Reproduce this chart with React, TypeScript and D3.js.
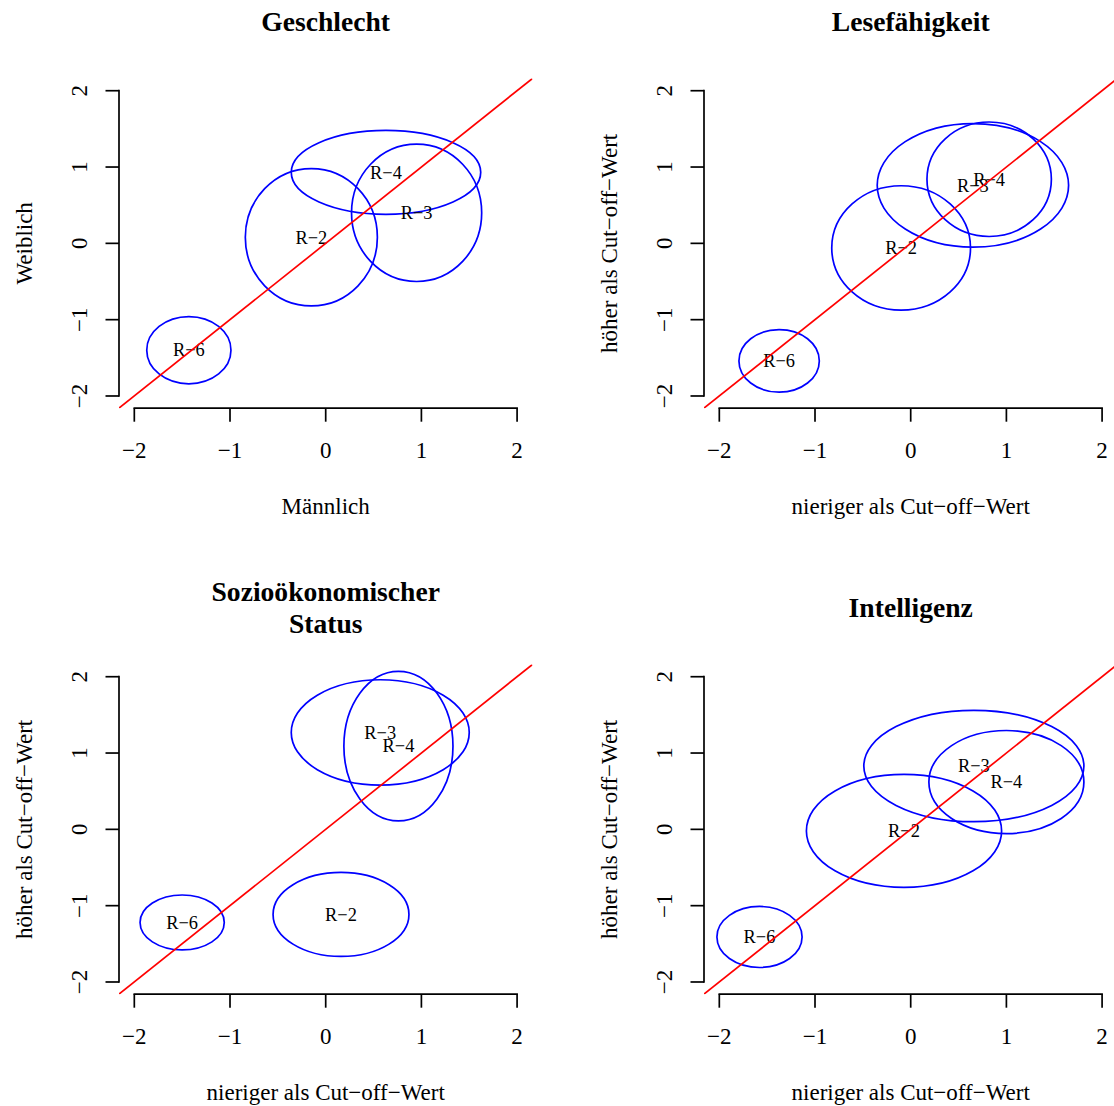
import React, { useEffect } from "react";
import * as d3 from "d3";

const panelTitles = ["Geschlecht", "Lesefähigkeit", "Sozioökonomischer\nStatus", "Intelligenz"];
const xLabels = ["Männlich", "nieriger als Cut−off−Wert", "nieriger als Cut−off−Wert", "nieriger als Cut−off−Wert"];
const yLabels = ["Weiblich", "höher als Cut−off−Wert", "höher als Cut−off−Wert", "höher als Cut−off−Wert"];
const groups = ["R−2", "R−3", "R−4", "R−6"];
const ticks = [-2, -1, 0, 1, 2];

// per panel: centers and radii for groups R-2, R-3, R-4, R-6
const centerX = [
  [-0.15, 0.95, 0.63, -1.43],
  [-0.10, 0.65, 0.82, -1.375],
  [0.16, 0.57, 0.76, -1.50],
  [-0.07, 0.66, 1.0, -1.58],
];
const centerY = [
  [0.08, 0.40, 0.93, -1.40],
  [-0.06, 0.76, 0.84, -1.54],
  [-1.115, 1.27, 1.09, -1.22],
  [-0.02, 0.83, 0.62, -1.41],
];
const radiusX = [
  [0.69, 0.68, 0.99, 0.44],
  [0.725, 1.0, 0.65, 0.42],
  [0.71, 0.93, 0.57, 0.44],
  [1.02, 1.15, 0.81, 0.445],
];
const radiusY = [
  [0.90, 0.90, 0.55, 0.44],
  [0.815, 0.81, 0.75, 0.41],
  [0.55, 0.69, 0.98, 0.36],
  [0.74, 0.73, 0.675, 0.40],
];

const FONT = "'Liberation Serif', 'Times New Roman', serif";
const W = 1114;
const H = 1106;

function Panel({ idx }: { idx: number }) {
  const col = idx % 2;
  const row = Math.floor(idx / 2);
  const L = 119 + col * 585;
  const T = 78.5 + row * 586;
  const PW = 413.4;
  const PH = 329.7;
  const x = d3.scaleLinear().domain([-2.16, 2.16]).range([L, L + PW]);
  const y = d3.scaleLinear().domain([-2.16, 2.16]).range([T + PH, T]);
  const bottom = T + PH;
  const lw = 1.7;
  const titleLines = panelTitles[idx].split("\n");
  const cxTitle = L + PW / 2;
  const titleBase = 30.7 + row * 586;
  const lineGap = 32;
  const firstBase = titleBase - ((titleLines.length - 1) * lineGap) / 2;
  const clipId = `clip${idx}`;
  return (
    <g>
      <defs>
        <clipPath id={clipId}>
          <rect x={L} y={T} width={PW} height={PH} />
        </clipPath>
      </defs>
      {/* title */}
      {titleLines.map((t, i) => (
        <text key={i} x={cxTitle} y={firstBase + i * lineGap} textAnchor="middle"
          fontFamily={FONT} fontWeight="bold" fontSize={27.6} fill="#000">{t}</text>
      ))}
      {/* ellipses */}
      {groups.map((g, i) => (
        <ellipse key={g} cx={x(centerX[idx][i])} cy={y(centerY[idx][i])}
          rx={x(radiusX[idx][i]) - x(0)} ry={y(0) - y(radiusY[idx][i])}
          fill="none" stroke="#0000ff" strokeWidth={lw} />
      ))}
      {/* labels */}
      {groups.map((g, i) => (
        <text key={g} x={x(centerX[idx][i])} y={y(centerY[idx][i]) + 6.3} textAnchor="middle"
          fontFamily={FONT} fontSize={18.4} fill="#000">{g}</text>
      ))}
      {/* identity line */}
      <line clipPath={`url(#${clipId})`} x1={x(-2.16)} y1={y(-2.16)} x2={x(2.16)} y2={y(2.16)}
        stroke="#ff0000" strokeWidth={lw} />
      {/* x axis */}
      <line x1={x(-2)} x2={x(2)} y1={bottom} y2={bottom} stroke="#000" strokeWidth={lw} strokeLinecap="square" />
      {ticks.map((t) => (
        <g key={"xt" + t}>
          <line x1={x(t)} x2={x(t)} y1={bottom} y2={bottom + 13.5} stroke="#000" strokeWidth={lw} />
          <text x={x(t)} y={bottom + 49.5} textAnchor="middle" fontFamily={FONT} fontSize={23} fill="#000">
            {t < 0 ? "−" + Math.abs(t) : String(t)}
          </text>
        </g>
      ))}
      {/* y axis */}
      <line x1={L} x2={L} y1={y(-2)} y2={y(2)} stroke="#000" strokeWidth={lw} strokeLinecap="square" />
      {ticks.map((t) => (
        <g key={"yt" + t}>
          <line x1={L} x2={L - 13.5} y1={y(t)} y2={y(t)} stroke="#000" strokeWidth={lw} />
          <text transform={`translate(${L - 32.5},${y(t)}) rotate(-90)`} textAnchor="middle"
            fontFamily={FONT} fontSize={23} fill="#000">
            {t < 0 ? "−" + Math.abs(t) : String(t)}
          </text>
        </g>
      ))}
      {/* axis titles */}
      <text x={cxTitle} y={bottom + 105.8} textAnchor="middle" fontFamily={FONT} fontSize={23} fill="#000">
        {xLabels[idx]}
      </text>
      <text transform={`translate(${L - 87.3},${T + PH / 2}) rotate(-90)`} textAnchor="middle"
        fontFamily={FONT} fontSize={23} fill="#000">
        {yLabels[idx]}
      </text>
    </g>
  );
}

export default function App() {
  useEffect(() => {
    document.body.style.margin = "0";
  }, []);
  return (
    <svg width={W} height={H} viewBox={`0 0 ${W} ${H}`} style={{ display: "block", background: "#fff" }}>
      <rect x={0} y={0} width={W} height={H} fill="#fff" />
      {[0, 1, 2, 3].map((i) => (
        <Panel key={i} idx={i} />
      ))}
    </svg>
  );
}
